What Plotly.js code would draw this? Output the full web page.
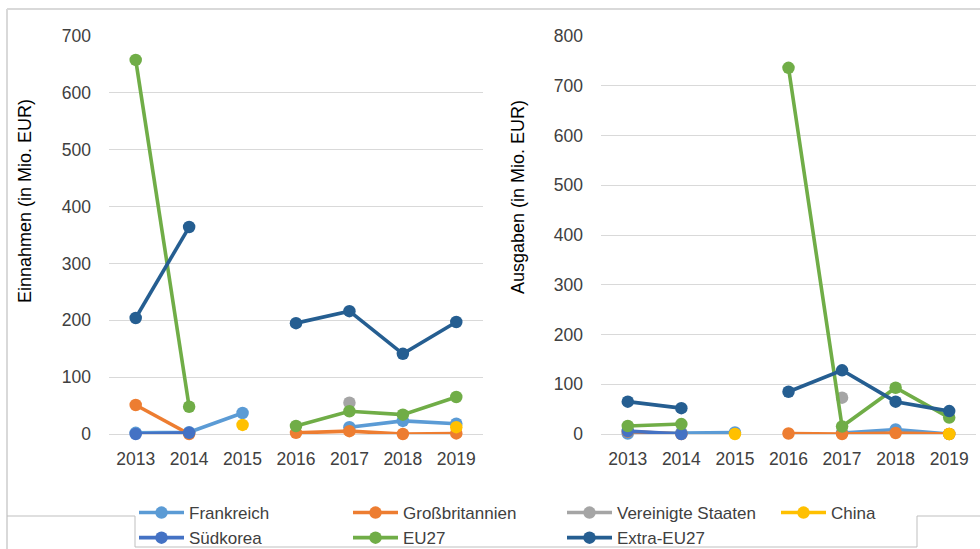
<!DOCTYPE html>
<html>
<head>
<meta charset="utf-8">
<script src="https://cdn.plot.ly/plotly-3.0.1.min.js"></script>
<style>
  html, body { margin: 0; padding: 0; background: #fff; }
  #chart { width: 980px; height: 549px; }
</style>
</head>
<body>
<div id="chart"></div>
<script>
// Jahre
const years = ['2013', '2014', '2015', '2016', '2017', '2018', '2019']

// Einnahmen (in Mio. EUR)
const frankreichEin = [2, 3, 37, null, 12, 23, 18]
const grossbritannienEin = [51, 0, null, 2, 5, 0, 1]
const usaEin = [null, null, null, null, 55, null, null]
const chinaEin = [null, null, 16, null, null, null, 12]
const suedkoreaEin = [0, 2, null, null, null, null, null]
const eu27Ein = [658, 48, null, 14, 40, 34, 65]
const extraEu27Ein = [204, 364, null, 195, 216, 141, 197]

// Ausgaben (in Mio. EUR)
const frankreichAus = [1, 2, 3, null, 2, 9, 0]
const grossbritannienAus = [5, 0, null, 1, 0, 2, 0]
const usaAus = [null, null, null, null, 73, null, null]
const chinaAus = [null, null, 0, null, null, null, 0]
const suedkoreaAus = [6, 0, null, null, null, null, null]
const eu27Aus = [16, 20, null, 736, 15, 93, 33]
const extraEu27Aus = [65, 52, null, 85, 128, 65, 46]

const seriesNames = ['Frankreich', 'Großbritannien', 'Vereinigte Staaten', 'China', 'Südkorea', 'EU27', 'Extra-EU27']
const seriesColors = ['#5B9BD5', '#ED7D31', '#A5A5A5', '#FFC000', '#4472C4', '#70AD47', '#255E91']
const einValues = [frankreichEin, grossbritannienEin, usaEin, chinaEin, suedkoreaEin, eu27Ein, extraEu27Ein]
const ausValues = [frankreichAus, grossbritannienAus, usaAus, chinaAus, suedkoreaAus, eu27Aus, extraEu27Aus]

const W = 980
const H = 549
const px = x => x / W
const py = y => 1 - y / H

const FONT = 'Liberation Sans, Arial, sans-serif'
const TEXT = '#404040'
const GRID = '#D9D9D9'

function makeTrace (i, values, xa, ya, showlegend) {
  return {
    x: years,
    y: values,
    type: 'scatter',
    mode: 'lines+markers',
    name: seriesNames[i],
    xaxis: xa,
    yaxis: ya,
    showlegend: showlegend,
    connectgaps: false,
    cliponaxis: false,
    legendwidth: i === 3 ? 60 : undefined,
    line: { color: seriesColors[i], width: 3.6 },
    marker: { color: seriesColors[i], size: 12.5 },
    hoverinfo: 'x+y+name',
  }
}

let data = []
seriesNames.forEach((n, i) => data.push(makeTrace(i, einValues[i], 'x', 'y', true)))
seriesNames.forEach((n, i) => data.push(makeTrace(i, ausValues[i], 'x2', 'y2', false)))

const xaxisBase = {
  type: 'category',
  categoryorder: 'array',
  categoryarray: years,
  range: [-0.5, 6.5],
  showgrid: false,
  zeroline: false,
  showline: false,
  ticks: '',
  ticklabelstandoff: 12,
  tickfont: { family: FONT, size: 17.5, color: TEXT },
  fixedrange: true,
}

const yaxisBase = {
  showgrid: true,
  gridcolor: GRID,
  gridwidth: 1,
  zeroline: true,
  zerolinecolor: GRID,
  zerolinewidth: 1,
  showline: false,
  ticks: '',
  ticklabelstandoff: 17,
  tickfont: { family: FONT, size: 17.5, color: TEXT },
  fixedrange: true,
  domain: [py(434), py(36)],
}

const frameLine = (x0, y0, x1, y1, color, width) => ({
  type: 'line',
  xref: 'paper',
  yref: 'paper',
  x0: px(x0),
  y0: py(y0),
  x1: px(x1),
  y1: py(y1),
  line: { color: color, width: width },
})

const yTitle = (text, x, y) => ({
  text: text,
  xref: 'paper',
  yref: 'paper',
  x: px(x),
  y: py(y),
  xanchor: 'center',
  yanchor: 'middle',
  textangle: -90,
  showarrow: false,
  font: { family: FONT, size: 18, color: '#000000' },
})

let layout = {
  width: W,
  height: H,
  margin: { l: 0, r: 0, t: 0, b: 0, autoexpand: false },
  paper_bgcolor: '#ffffff',
  plot_bgcolor: 'rgba(0,0,0,0)',
  font: { family: FONT, size: 17, color: TEXT },
  xaxis: Object.assign({}, xaxisBase, { domain: [px(109), px(483)], anchor: 'y' }),
  yaxis: Object.assign({}, yaxisBase, { range: [0, 700], dtick: 100, anchor: 'x' }),
  xaxis2: Object.assign({}, xaxisBase, { domain: [px(601), px(976)], anchor: 'y2' }),
  yaxis2: Object.assign({}, yaxisBase, { range: [0, 800], dtick: 100, anchor: 'x2' }),
  showlegend: true,
  legend: {
    orientation: 'h',
    x: px(134),
    xanchor: 'left',
    y: py(495),
    yanchor: 'top',
    itemwidth: 45,
    entrywidth: 154,
    entrywidthmode: 'pixels',
    bgcolor: 'rgba(0,0,0,0)',
    font: { family: FONT, size: 17, color: TEXT },
    itemclick: false,
    itemdoubleclick: false,
  },
  annotations: [
    yTitle('Einnahmen (in Mio. EUR)', 25, 201),
    yTitle('Ausgaben (in Mio. EUR)', 518, 197),
  ],
  shapes: [
    frameLine(7, 9, 980, 9, '#D9D9D9', 2),
    frameLine(7, 9, 7, 549, '#D9D9D9', 2),
    frameLine(7, 516, 135, 516, '#BFBFBF', 1),
    frameLine(135, 516, 135, 547, '#BFBFBF', 1),
    frameLine(135, 547, 917, 547, '#BFBFBF', 1),
    frameLine(917, 547, 917, 516, '#BFBFBF', 1),
    frameLine(917, 516, 980, 516, '#BFBFBF', 1),
  ],
}

Plotly.newPlot('chart', data, layout, { displayModeBar: false, staticPlot: true })
</script>
</body>
</html>
